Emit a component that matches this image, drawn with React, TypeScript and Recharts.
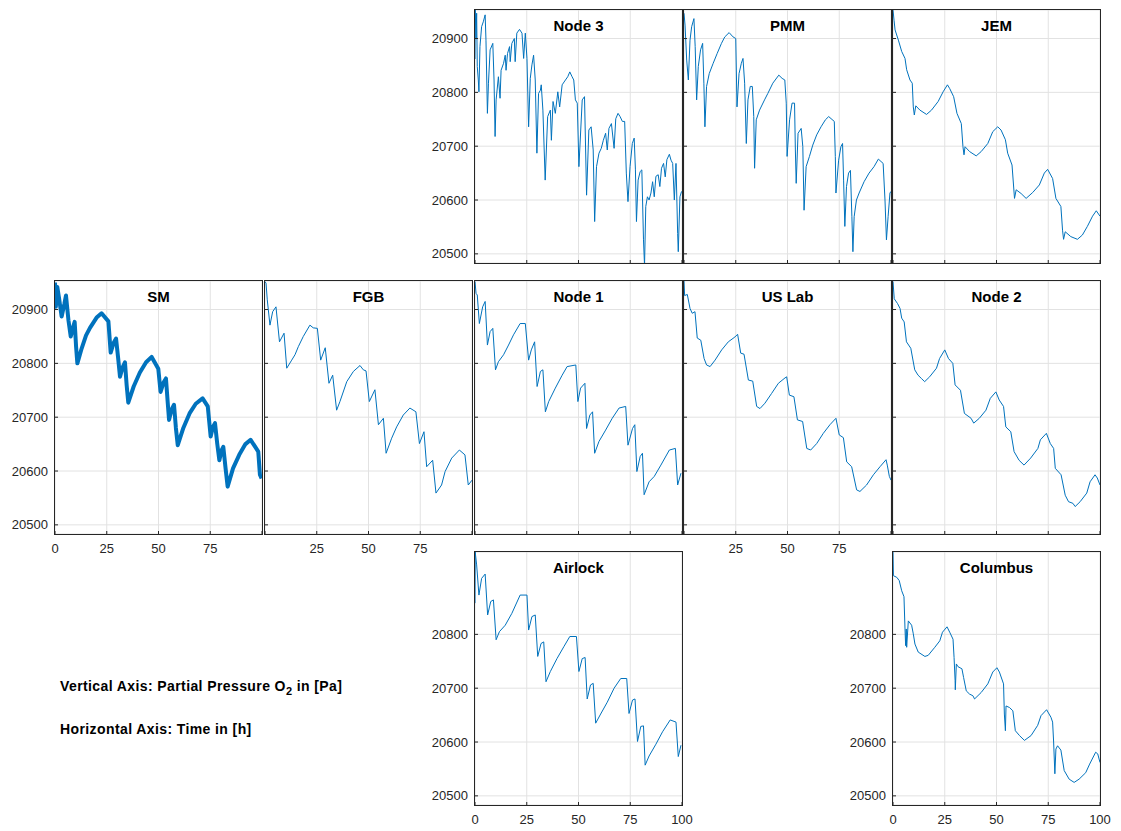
import { LineChart, Line, XAxis, YAxis, CartesianGrid } from 'recharts';

type Pt = [number, number];

// time [h], partial pressure O2 [Pa] per ISS module
const node3: Pt[] = [
  [0, 20862], [0.1, 20953], [0.5, 20900], [0.8, 20947], [1.1, 20848], [1.6, 20823], [1.9, 20801],
  [2.4, 20885], [3.2, 20922], [4, 20931], [4.9, 20944], [5.3, 20897], [6, 20761], [6.5, 20817],
  [7.3, 20879], [8.6, 20891], [9.2, 20823], [9.7, 20718], [10.2, 20786], [11.3, 20829], [12.1, 20789],
  [12.6, 20841], [13.8, 20854], [14.6, 20869], [15, 20841], [15.7, 20872], [16.7, 20885], [17, 20857],
  [17.8, 20891], [19, 20900], [19.4, 20857], [20.2, 20910], [21.5, 20917], [22.7, 20910], [23.5, 20863],
  [24.3, 20910], [25.1, 20863], [25.9, 20736], [26.7, 20826], [27.5, 20851], [28.3, 20869], [29.1, 20823],
  [29.9, 20687], [30.7, 20798], [31.6, 20804], [32, 20814], [32.8, 20767], [33.9, 20637], [35.1, 20755],
  [36.4, 20767], [36.9, 20711], [37.7, 20783], [38.8, 20761], [40, 20801], [40.9, 20773], [42.1, 20814],
  [43.7, 20823], [44.8, 20829], [45.8, 20838], [46.9, 20829], [47.7, 20823], [48.5, 20786], [49.4, 20780],
  [50.2, 20662], [51.8, 20786], [52.9, 20792], [53.9, 20609], [55, 20730], [56.1, 20736], [57.1, 20693],
  [57.8, 20560], [58.7, 20662], [59.9, 20687], [61, 20696], [62, 20711], [63.1, 20724], [63.9, 20693],
  [64.7, 20733], [65.9, 20742], [67.2, 20696], [68, 20751], [69.1, 20761], [70.1, 20755], [71.2, 20746],
  [72.3, 20746], [73.1, 20650], [73.9, 20597], [74.9, 20662], [76, 20705], [76.9, 20715], [77.5, 20656],
  [78, 20560], [78.8, 20637], [79.8, 20653], [80.6, 20656], [81.4, 20526], [81.9, 20478], [82.5, 20588],
  [83.3, 20606], [84.1, 20600], [85, 20613], [85.8, 20634], [86.6, 20606], [87.4, 20644], [88.5, 20647],
  [89.3, 20625], [90.1, 20659], [91.1, 20668], [91.9, 20643], [92.7, 20675], [93.9, 20685], [94.7, 20674],
  [95.5, 20668], [96.3, 20600], [97.1, 20668], [97.9, 20538], [98.2, 20504], [99, 20606], [99.8, 20616],
];

const pmm: Pt[] = [
  [0, 20947], [0.5, 20925], [1.3, 20860], [2.1, 20823], [2.9, 20897], [3.7, 20922], [4.8, 20937],
  [5.4, 20885], [6.1, 20786], [6.9, 20848], [8, 20879], [9, 20891], [9.6, 20817], [10.1, 20736],
  [10.9, 20811], [12.2, 20835], [14.1, 20854], [16, 20872], [18.1, 20891], [19.7, 20903], [21.8, 20911],
  [23.7, 20903], [25, 20900], [25.6, 20773], [26.6, 20835], [27.7, 20854], [28.5, 20863], [29.3, 20817],
  [30.1, 20705], [30.9, 20786], [32, 20811], [33, 20811], [33.7, 20755], [34.1, 20659], [34.9, 20749],
  [36.5, 20767], [38.9, 20786], [40.5, 20798], [42.9, 20817], [45.8, 20832], [47.4, 20826], [48.7, 20823],
  [49.4, 20780], [49.8, 20681], [51, 20749], [52.2, 20780], [53.4, 20780], [53.8, 20693], [54.2, 20631],
  [55.1, 20724], [56.6, 20733], [57.4, 20699], [58, 20581], [59, 20662], [60.6, 20681], [62.2, 20702],
  [64.1, 20721], [66.2, 20736], [68.3, 20749], [69.9, 20755], [72.6, 20746], [73.1, 20681], [73.4, 20613],
  [74.7, 20674], [75.8, 20699], [76.6, 20705], [77.1, 20637], [77.7, 20551], [78.5, 20625], [79.5, 20650],
  [80.4, 20655], [81.1, 20569], [81.6, 20504], [82.2, 20569], [83.3, 20600], [84.6, 20613], [87, 20634],
  [89.4, 20650], [91.8, 20662], [93.9, 20676], [96.2, 20668], [97.1, 20600], [97.8, 20526], [98.6, 20569],
  [99.5, 20613], [100, 20616],
];

const jem: Pt[] = [
  [0, 20953], [0.5, 20934], [1, 20916], [2.6, 20897], [4.2, 20876], [5.8, 20863], [6.6, 20842],
  [8.2, 20823], [9.3, 20817], [9.8, 20773], [10.3, 20758], [11, 20775], [13, 20767], [16.2, 20759],
  [18.6, 20767], [21.8, 20783], [24.2, 20801], [26.3, 20814], [27.4, 20807], [29.3, 20792], [30.9, 20761],
  [33, 20742], [33.8, 20699], [34.3, 20684], [34.8, 20699], [37, 20690], [40.2, 20682], [42.6, 20690],
  [45.8, 20705], [48.2, 20727], [50.6, 20736], [52.2, 20730], [54.3, 20712], [55.4, 20687], [57.5, 20665],
  [58.7, 20603], [59.5, 20619], [61.9, 20612], [64.3, 20603], [67.5, 20614], [70.7, 20628], [73.1, 20650],
  [74.7, 20657], [77.1, 20640], [78.7, 20603], [81.1, 20588], [81.9, 20544], [82.4, 20527], [83.2, 20541],
  [85.9, 20532], [89.1, 20527], [91.5, 20535], [93.9, 20551], [96.4, 20570], [98.2, 20580], [100, 20570],
];

const sm: Pt[] = [
  [0, 20950], [0.4, 20905], [1.1, 20942], [2, 20920], [3.2, 20887], [4.5, 20910], [5.3, 20926],
  [6.5, 20880], [7.6, 20850], [8.8, 20868], [9.5, 20877], [10.2, 20830], [10.8, 20800], [12.9, 20828],
  [15, 20852], [16.9, 20866], [20.1, 20885], [22.5, 20893], [25.8, 20878], [26.9, 20820], [28.3, 20838],
  [29.5, 20846], [30.5, 20810], [31.4, 20775], [32.6, 20792], [33.8, 20802], [34.6, 20760], [35.4, 20727],
  [38, 20757], [41, 20783], [44, 20802], [46.7, 20812], [49.9, 20790], [51, 20747], [52.5, 20765],
  [53.6, 20772], [54.4, 20730], [55.1, 20695], [56.4, 20715], [57.5, 20723], [58.4, 20680], [59.3, 20648],
  [62, 20680], [65, 20707], [68, 20725], [71.3, 20735], [73.8, 20720], [75.2, 20664], [76.3, 20682],
  [77.3, 20689], [78.4, 20650], [79.4, 20620], [80.4, 20638], [81.3, 20645], [82.4, 20605], [83.4, 20571],
  [86, 20605], [89, 20630], [92, 20650], [94.5, 20658], [98.2, 20636], [99, 20593], [99.8, 20586],
];

const fgb: Pt[] = [
  [0, 20952], [0.5, 20949], [1.1, 20918], [2.4, 20871], [3.7, 20896], [5.3, 20905], [7, 20840],
  [9.2, 20856], [10.5, 20791], [12.9, 20806], [14.5, 20816], [16.1, 20831], [18.5, 20850], [21.7, 20871],
  [23.3, 20866], [25.3, 20865], [26.9, 20806], [29.1, 20829], [30.9, 20763], [32.7, 20778], [34.6, 20713],
  [36.2, 20729], [39.5, 20766], [42.7, 20785], [45.9, 20796], [47.5, 20788], [48.8, 20786], [50.4, 20729],
  [53.1, 20751], [54.8, 20686], [57.2, 20698], [58.5, 20633], [61.2, 20661], [63.6, 20682], [66.8, 20704],
  [70, 20717], [72.9, 20710], [74.6, 20651], [76.8, 20673], [78.1, 20608], [81, 20620], [82.6, 20559],
  [85.3, 20574], [87, 20599], [90.2, 20624], [93.9, 20639], [96.6, 20630], [98.2, 20574], [100, 20583],
];

const node1: Pt[] = [
  [0, 20952], [0.5, 20930], [1.1, 20927], [2.1, 20874], [3.7, 20905], [4.9, 20915], [6, 20834],
  [7.3, 20859], [8.6, 20865], [9.9, 20788], [11.3, 20803], [13.8, 20816], [16.2, 20834], [18.6, 20853],
  [21.8, 20874], [24.3, 20874], [25.9, 20806], [27.2, 20825], [28.8, 20840], [30, 20757], [31.6, 20785],
  [32.8, 20788], [34, 20710], [35.6, 20729], [38.8, 20754], [42.1, 20778], [44.5, 20794], [48.7, 20797],
  [49.7, 20729], [51, 20754], [53.1, 20763], [53.9, 20679], [55.5, 20704], [56.8, 20710], [57.8, 20633],
  [59.9, 20655], [63.1, 20676], [66.3, 20698], [69.6, 20717], [72.8, 20720], [73.9, 20648], [76.1, 20679],
  [77.2, 20686], [78.2, 20599], [79.8, 20627], [80.9, 20633], [81.7, 20556], [84.1, 20580], [86.6, 20590],
  [89.8, 20611], [93.9, 20639], [96.8, 20642], [97.9, 20574], [99.5, 20596],
];

const usLab: Pt[] = [
  [0, 20953], [0.3, 20926], [1.6, 20928], [2.9, 20902], [4, 20893], [5.3, 20896], [6.4, 20847],
  [8.1, 20843], [9.7, 20809], [10.9, 20797], [12.6, 20794], [15, 20806], [18.2, 20825], [21.4, 20840],
  [24.6, 20849], [25.9, 20854], [27.4, 20819], [29, 20817], [31.1, 20769], [33.2, 20767], [35.1, 20720],
  [36.7, 20716], [39.1, 20726], [42.3, 20744], [45.6, 20763], [48.8, 20773], [49.6, 20775], [50.9, 20741],
  [53.1, 20738], [54.8, 20695], [57.3, 20692], [59.3, 20642], [61.2, 20639], [64.1, 20651], [67.3, 20670],
  [70.5, 20686], [73.4, 20698], [75, 20667], [77, 20662], [78.6, 20617], [81, 20608], [83.4, 20565],
  [85, 20562], [88.2, 20574], [91.5, 20593], [94.7, 20608], [97.6, 20621], [98.2, 20611], [99.2, 20590],
  [100, 20583],
];

const node2: Pt[] = [
  [0, 20952], [0.6, 20920], [2.2, 20911], [3.4, 20902], [4.2, 20884], [5.4, 20877], [6.5, 20840],
  [8.6, 20828], [10.5, 20788], [12.1, 20778], [13.7, 20772], [15.3, 20766], [17.7, 20775], [21, 20791],
  [22.5, 20809], [25, 20825], [26.8, 20809], [28.9, 20800], [30, 20760], [32.6, 20750], [34.5, 20707],
  [37.7, 20698], [39, 20689], [41.7, 20698], [44.9, 20713], [47, 20735], [49.7, 20747], [51.3, 20732],
  [53.4, 20720], [54.5, 20682], [56.9, 20673], [58.5, 20636], [60.9, 20620], [63.3, 20611], [66.5, 20624],
  [70, 20642], [71.2, 20658], [74.1, 20670], [76, 20651], [77.6, 20642], [78.4, 20605], [81.2, 20593],
  [83.2, 20555], [84.8, 20543], [86.9, 20540], [88, 20534], [90.4, 20543], [93.6, 20559], [95.2, 20580],
  [97.6, 20593], [98.7, 20587], [100, 20574],
];

const airlock: Pt[] = [
  [0, 20858], [0.1, 20953], [0.8, 20929], [1.9, 20873], [3.2, 20904], [4.9, 20912], [6.1, 20836],
  [7.6, 20861], [8.9, 20864], [10.2, 20790], [11.8, 20805], [14.6, 20817], [17.8, 20839], [21.8, 20873],
  [25.1, 20873], [25.9, 20808], [27.5, 20833], [29.1, 20836], [30.3, 20759], [31.9, 20783], [33.2, 20786],
  [34.3, 20712], [36.4, 20731], [39.6, 20755], [42.9, 20777], [45.8, 20796], [49, 20796], [50.2, 20731],
  [51.8, 20755], [53.2, 20757], [54.2, 20680], [55.8, 20706], [57.1, 20709], [58.3, 20635], [60.7, 20652],
  [63.9, 20674], [67.2, 20700], [70.4, 20718], [73.3, 20718], [74.4, 20653], [76.1, 20678], [77.3, 20680],
  [78.5, 20601], [80.1, 20629], [81.4, 20630], [82.2, 20557], [84.1, 20574], [87.4, 20596], [90.6, 20619],
  [94.3, 20641], [97.1, 20637], [98.2, 20573], [99.5, 20594],
];

const columbus: Pt[] = [
  [0, 20953], [0.2, 20909], [1.8, 20906], [3, 20900], [4.2, 20881], [5.3, 20870], [5.8, 20810],
  [6.1, 20779], [6.4, 20810], [6.6, 20776], [7.4, 20825], [9, 20817], [9.8, 20801], [10.6, 20782],
  [12.2, 20767], [15.4, 20759], [17, 20761], [20.2, 20776], [22.6, 20788], [23.9, 20804], [26.1, 20814],
  [27.4, 20804], [29, 20791], [29.5, 20757], [30, 20714], [30.1, 20697], [30.6, 20745], [31.4, 20740],
  [33.3, 20736], [34.1, 20720], [35.4, 20695], [37, 20689], [38.6, 20686], [39.4, 20680], [42.6, 20692],
  [45.8, 20708], [48.2, 20730], [50.2, 20738], [51.4, 20730], [53.4, 20708], [53.8, 20652], [54.3, 20621],
  [54.6, 20667], [56.3, 20664], [57.9, 20658], [59.1, 20621], [61.1, 20612], [63.5, 20603], [66.7, 20612],
  [69.9, 20631], [71.5, 20649], [74.2, 20660], [76.3, 20646], [77.1, 20637], [77.6, 20600], [78.2, 20541],
  [78.7, 20587], [79.5, 20593], [81.1, 20585], [82.7, 20547], [85.1, 20531], [87.5, 20525], [89.9, 20531],
  [93.1, 20543], [95, 20559], [97.9, 20581], [98.9, 20578], [100, 20562],
];

const X_TICKS = [0, 25, 50, 75, 100];
const Y_TICKS = [20500, 20600, 20700, 20800, 20900];
const Y_TICKS_LOW = [20500, 20600, 20700, 20800];
const Y_DOMAIN: [number, number] = [20483, 20953];

const FONT = '"Liberation Sans", Arial, Helvetica, sans-serif';
const INK = '#262626';
const BLUE = '#0072BD';

// subplot grid (plot-area corners, page px)
const COL_X = [55, 265, 475, 684, 893];
const ROW_Y = [10, 281, 552];
const PLOT_W = 207;
const PLOT_H = 253;
const AXIS_W = 60;
const AXIS_H = 32;
const PAD_R = 20;

interface PanelProps {
  title: string;
  data: Pt[];
  col: number;
  row: number;
  yLabels?: boolean;
  xLabels?: number[];
  yTicks?: number[];
  lineWidth?: number;
}

const Panel = ({ title, data, col, row, yLabels = false, xLabels = [], yTicks = Y_TICKS, lineWidth = 1 }: PanelProps) => {
  const left = COL_X[col];
  const top = ROW_Y[row];
  const chartData = data.map(([t, p]) => ({ t, p }));
  const tickStyle = { fill: INK, fontSize: 13, fontFamily: FONT };

  return (
    <>
      <div style={{ position: 'absolute', left: left - AXIS_W, top }}>
        <LineChart
          width={PLOT_W + AXIS_W + PAD_R}
          height={PLOT_H + AXIS_H}
          data={chartData}
          margin={{ top: 0, right: PAD_R, bottom: 0, left: 0 }}
        >
          <CartesianGrid stroke="#e2e2e2" />
          <XAxis
            type="number"
            dataKey="t"
            domain={[0, 100]}
            ticks={X_TICKS}
            interval={0}
            height={AXIS_H}
            axisLine={false}
            stroke={INK}
            tickSize={-3}
            tickMargin={13}
            tick={tickStyle}
            tickFormatter={(v: number) => (xLabels.includes(v) ? String(v) : '')}
            allowDataOverflow
          />
          {/* inner tick marks along the top and right edges of the box */}
          <XAxis
            xAxisId="top"
            orientation="top"
            type="number"
            dataKey="t"
            domain={[0, 100]}
            ticks={X_TICKS}
            interval={0}
            height={0}
            axisLine={false}
            stroke={INK}
            tickSize={-3}
            tick={false}
            allowDataOverflow
          />
          <YAxis
            type="number"
            domain={Y_DOMAIN}
            ticks={yTicks}
            interval={0}
            width={AXIS_W}
            axisLine={false}
            stroke={INK}
            tickSize={-3}
            tickMargin={10}
            tick={tickStyle}
            tickFormatter={(v: number) => (yLabels ? String(v) : '')}
            allowDataOverflow
          />
          <YAxis
            yAxisId="right"
            orientation="right"
            type="number"
            domain={Y_DOMAIN}
            ticks={yTicks}
            interval={0}
            width={0}
            axisLine={false}
            stroke={INK}
            tickSize={-3}
            tick={false}
            allowDataOverflow
          />
          <Line
            type="linear"
            dataKey="p"
            stroke={BLUE}
            strokeWidth={lineWidth}
            strokeLinejoin="round"
            dot={false}
            isAnimationActive={false}
          />
        </LineChart>
      </div>
      <div
        style={{
          position: 'absolute',
          left: left - 1,
          top: top - 1,
          width: PLOT_W + 2,
          height: PLOT_H + 2,
          border: `1px solid ${INK}`,
          boxSizing: 'border-box',
          pointerEvents: 'none',
        }}
      />
      <div
        style={{
          position: 'absolute',
          left,
          top: top + 6,
          width: PLOT_W,
          textAlign: 'center',
          fontFamily: FONT,
          fontWeight: 'bold',
          fontSize: 15,
          lineHeight: '20px',
          color: '#000',
        }}
      >
        {title}
      </div>
    </>
  );
};

const noteStyle = {
  position: 'absolute' as const,
  left: 60,
  fontFamily: FONT,
  fontWeight: 'bold' as const,
  fontSize: 14,
  letterSpacing: 0.4,
  color: '#000',
  whiteSpace: 'nowrap' as const,
};

export default function App() {
  return (
    <div style={{ position: 'absolute', left: 0, top: 0, width: 1121, height: 831, background: '#fff' }}>
      <Panel title="Node 3" data={node3} col={2} row={0} yLabels />
      <Panel title="PMM" data={pmm} col={3} row={0} />
      <Panel title="JEM" data={jem} col={4} row={0} />
      <Panel title="SM" data={sm} col={0} row={1} yLabels xLabels={[0, 25, 50, 75]} lineWidth={4} />
      <Panel title="FGB" data={fgb} col={1} row={1} xLabels={[25, 50, 75]} />
      <Panel title="Node 1" data={node1} col={2} row={1} />
      <Panel title="US Lab" data={usLab} col={3} row={1} xLabels={[25, 50, 75]} />
      <Panel title="Node 2" data={node2} col={4} row={1} />
      <Panel title="Airlock" data={airlock} col={2} row={2} yLabels xLabels={X_TICKS} yTicks={Y_TICKS_LOW} />
      <Panel title="Columbus" data={columbus} col={4} row={2} yLabels xLabels={X_TICKS} yTicks={Y_TICKS_LOW} />
      <div style={{ ...noteStyle, top: 678 }}>
        Vertical Axis: Partial Pressure O<sub style={{ fontSize: 11 }}>2</sub> in [Pa]
      </div>
      <div style={{ ...noteStyle, top: 721 }}>Horizontal Axis: Time in [h]</div>
    </div>
  );
}
